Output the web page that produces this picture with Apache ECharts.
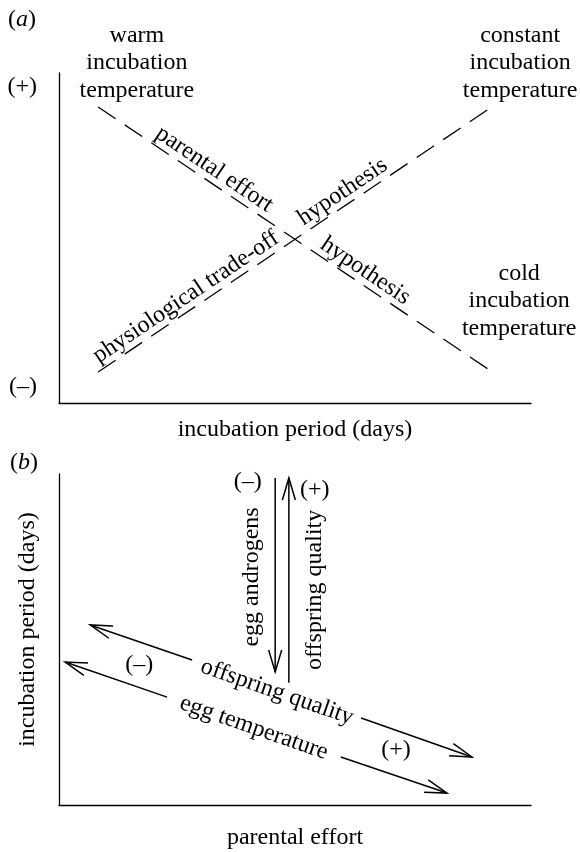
<!DOCTYPE html>
<html>
<head>
<meta charset="utf-8">
<script src="https://cdn.jsdelivr.net/npm/echarts@6/dist/echarts.min.js"></script>
<style>
  html, body { margin: 0; padding: 0; background: #fff; }
  #main { width: 580px; height: 852px; }
</style>
</head>
<body>
<div id="main"></div>
<script>
// panel (a): both axes run 0..100 (conceptual, no units)
var constantLine = [[8.3, 9.4], [50, 49.6], [91.7, 89.7]];   // physiological trade-off -> constant temp
var warmColdLine = [[8.3, 89.7], [50, 49.6], [91.5, 9.7]];   // warm temp -> cold temp
var aTickValues = [4.8, 95.8];
var aTickLabels = ['(–)', '(+)'];

var aNoteText = [
    'warm\nincubation\ntemperature',
    'constant\nincubation\ntemperature',
    'cold\nincubation\ntemperature',
    'parental effort',
    'physiological trade-off',
    'hypothesis',
    'hypothesis'
];
var aNotePos = [[16.5, 103], [97.7, 103], [97.5, 30.9], [32.9, 70.8], [26.9, 32.1], [60.1, 64.0], [64.9, 40.0]];

// panel (b): arrows, tail -> head
var bArrowFrom = [[45.8, 98.8], [48.7, 36.9], [28.2, 43.8], [22.9, 32.6], [64.0, 26.3], [59.7, 14.5]];
var bArrowTo = [[45.8, 40.2], [48.7, 98.8], [6.6, 54.4], [1.3, 43.2], [87.5, 14.5], [82.2, 3.6]];

var bNoteText = ['(–)', 'egg androgens', '(+)', 'offspring quality', '(–)', '(+)', 'offspring quality', 'egg temperature'];
var bNotePos = [[40.0, 97.6], [40.9, 68.9], [54.2, 95.2], [54.2, 65.0], [17.0, 42.3], [71.4, 16.6], [46.2, 34.1], [41.3, 23.3]];

var FONT = 'Liberation Serif';
var FS = 24;
var slopeA = 33.9 * Math.PI / 180;
var slopeB = 19.2 * Math.PI / 180;
var aNoteRot = [0, 0, 0, -slopeA, slopeA, slopeA, -slopeA];
var bNoteRot = [0, Math.PI / 2, 0, Math.PI / 2, 0, 0, -slopeB, -slopeB];

function noteSeries(texts, pos, rots, idx) {
    return {
        type: 'custom',
        xAxisIndex: idx,
        yAxisIndex: idx,
        silent: true,
        data: pos.map(function (p, i) { return [p[0], p[1], i]; }),
        renderItem: function (params, api) {
            var pt = api.coord([api.value(0), api.value(1)]);
            var i = api.value(2);
            return {
                type: 'text',
                x: pt[0],
                y: pt[1],
                rotation: rots[i],
                style: {
                    text: texts[i],
                    fill: '#000',
                    font: FS + 'px "' + FONT + '"',
                    lineHeight: 27.5,
                    align: 'center',
                    verticalAlign: 'middle'
                }
            };
        }
    };
}

function arrowSeries(from, to, idx) {
    return {
        type: 'custom',
        xAxisIndex: idx,
        yAxisIndex: idx,
        silent: true,
        data: from.map(function (f, i) { return [f[0], f[1], to[i][0], to[i][1]]; }),
        renderItem: function (params, api) {
            var a = api.coord([api.value(0), api.value(1)]);
            var b = api.coord([api.value(2), api.value(3)]);
            var dx = b[0] - a[0], dy = b[1] - a[1];
            var len = Math.sqrt(dx * dx + dy * dy);
            var ux = dx / len, uy = dy / len;
            var hl = 22, hw = 6.5;
            var bx = b[0] - ux * hl, by = b[1] - uy * hl;
            var st = { stroke: '#000', lineWidth: 1.5, fill: null };
            return {
                type: 'group',
                children: [
                    { type: 'line', shape: { x1: a[0], y1: a[1], x2: b[0], y2: b[1] }, style: st },
                    {
                        type: 'polyline',
                        shape: { points: [[bx - uy * hw, by + ux * hw], b, [bx + uy * hw, by - ux * hw]] },
                        style: st
                    }
                ]
            };
        }
    };
}

function plainAxis(idx, extra) {
    var ax = {
        type: 'value',
        gridIndex: idx,
        min: 0,
        max: 100,
        axisLine: { show: true, onZero: false, lineStyle: { color: '#000', width: 1.3 } },
        axisTick: { show: false },
        axisLabel: { show: false },
        splitLine: { show: false },
        nameLocation: 'middle',
        nameTextStyle: { color: '#000', fontFamily: FONT, fontSize: FS }
    };
    return Object.assign(ax, extra);
}

var chart = echarts.init(document.getElementById('main'), null, { renderer: 'canvas' });

var option = {
    backgroundColor: '#fff',
    animation: false,
    textStyle: { fontFamily: FONT },
    grid: [
        { left: 59, top: 73, width: 472, height: 330, outerBoundsMode: 'none', containLabel: false },
        { left: 59, top: 474, width: 472, height: 331, outerBoundsMode: 'none', containLabel: false }
    ],
    xAxis: [
        plainAxis(0, { name: 'incubation period (days)', nameGap: 15 }),
        plainAxis(1, { name: 'parental effort', nameGap: 21 })
    ],
    yAxis: [
        plainAxis(0, {
            name: 'offspring quality',
            nameGap: 19,
            nameTextStyle: { color: '#000', fontFamily: FONT, fontSize: FS, padding: [0, 0, 0, 10] },
            axisLabel: {
                show: true,
                customValues: aTickValues,
                margin: 22,
                color: '#000',
                fontFamily: FONT,
                fontSize: FS,
                formatter: function (v) { return aTickLabels[aTickValues.indexOf(v)]; }
            }
        }),
        plainAxis(1, {
            name: 'incubation period (days)',
            nameGap: 19,
            nameTextStyle: { color: '#000', fontFamily: FONT, fontSize: FS, padding: [0, 0, 0, 20] }
        })
    ],
    graphic: [
        {
            type: 'text', left: 8, top: 8,
            style: { text: '({i|a})', fill: '#000', font: FS + 'px "' + FONT + '"', rich: { i: { fontStyle: 'italic', fontSize: FS, fontFamily: FONT } } }
        },
        {
            type: 'text', left: 10, top: 451,
            style: { text: '({i|b})', fill: '#000', font: FS + 'px "' + FONT + '"', rich: { i: { fontStyle: 'italic', fontSize: FS, fontFamily: FONT } } }
        }
    ],
    series: [
        {
            type: 'line', xAxisIndex: 0, yAxisIndex: 0, data: warmColdLine,
            showSymbol: false, silent: true,
            lineStyle: { color: '#000', width: 1.3, type: [21, 11] }
        },
        {
            type: 'line', xAxisIndex: 0, yAxisIndex: 0, data: constantLine,
            showSymbol: false, silent: true,
            lineStyle: { color: '#000', width: 1.3, type: [21, 11] }
        },
        noteSeries(aNoteText, aNotePos, aNoteRot, 0),
        arrowSeries(bArrowFrom, bArrowTo, 1),
        noteSeries(bNoteText, bNotePos, bNoteRot, 1)
    ]
};

chart.setOption(option);
</script>
</body>
</html>
